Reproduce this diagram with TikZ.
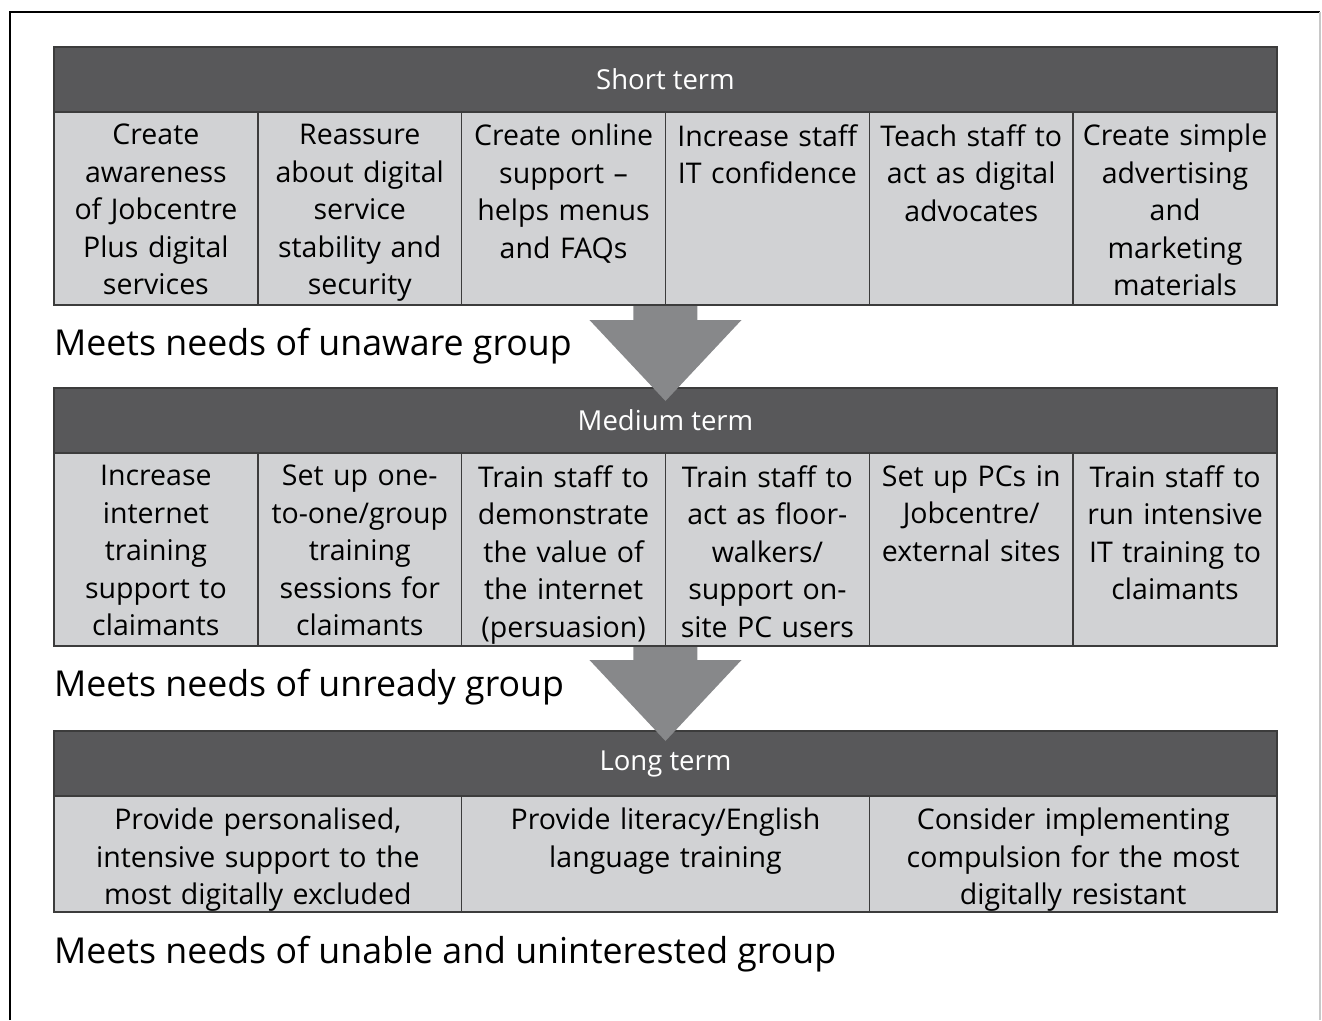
\documentclass[tikz,border=0pt]{standalone}
\usepackage{fontspec}
\setmainfont{Open Sans}
\usetikzlibrary{positioning}
\definecolor{headgrey}{HTML}{58585A}
\definecolor{cellgrey}{HTML}{D1D2D4}
\definecolor{arrowgrey}{HTML}{87888A}
\definecolor{rulegrey}{HTML}{3C3C3C}
\definecolor{framegrey}{HTML}{C8C8C8}
\tikzset{head/.style={rectangle, draw=rulegrey, line width=1.5pt, fill=headgrey,
   text=white, minimum width=1223pt, minimum height=65pt, inner sep=0pt, outer sep=0pt,
   font=\fontsize{27.5}{32}\selectfont}}
\tikzset{cell/.style={rectangle, draw=rulegrey, line width=1.5pt, fill=cellgrey,
   minimum width=203.83pt, minimum height=193pt, inner sep=0pt, outer sep=0pt}}
\tikzset{wide/.style={cell, minimum width=407.67pt, minimum height=116pt}}
\tikzset{celltext/.style={text width=200pt, align=center, inner sep=0pt, anchor=north,
   font=\fontsize{28.5}{37.5}\selectfont}}
\tikzset{meets/.style={anchor=base west, inner sep=0pt, font=\fontsize{35.7}{42}\selectfont}}

\begin{document}
\begin{tikzpicture}[x=1pt, y=-1pt]

    \useasboundingbox (0,0) rectangle (1322,1020);
    \draw[black, line width=2pt] (10,1020) -- (10,12) -- (1320,12);
    \draw[framegrey, line width=1.5pt] (1320,12) -- (1320,1020);

    % short term
    \node[head, anchor=north west] (short) at (54,47) {Short term};
    \node[cell, anchor=north west] (s1) at (short.south west) {};
    \node[cell, right=0pt of s1] (s2) {};
    \node[cell, right=0pt of s2] (s3) {};
    \node[cell, right=0pt of s3] (s4) {};
    \node[cell, right=0pt of s4] (s5) {};
    \node[cell, right=0pt of s5] (s6) {};
    \node[celltext, below=12pt of s1.north] (s1t) {Create\\awareness\\of Jobcentre\\Plus digital\\services};
    \node[celltext, below=12pt of s2.north] (s2t) {Reassure\\about digital\\service\\stability and\\security};
    \node[celltext, below=12pt of s3.north] (s3t) {Create online\\support --\\helps menus\\and FAQs};
    \node[celltext, below=12pt of s4.north] (s4t) {Increase staff\\IT confidence};
    \node[celltext, below=12pt of s5.north] (s5t) {Teach staff to\\act as digital\\advocates};
    \node[celltext, below=12pt of s6.north] (s6t) {Create simple\\advertising\\and\\marketing\\materials};
    \node[meets] (need1) at ([yshift=-50pt]s1.south west) {Meets needs of unaware group};

    % medium term
    \node[head, anchor=north west] (medium) at (54,388) {Medium term};
    \node[cell, anchor=north west] (m1) at (medium.south west) {};
    \node[cell, right=0pt of m1] (m2) {};
    \node[cell, right=0pt of m2] (m3) {};
    \node[cell, right=0pt of m3] (m4) {};
    \node[cell, right=0pt of m4] (m5) {};
    \node[cell, right=0pt of m5] (m6) {};
    \node[celltext, below=12pt of m1.north] (m1t) {Increase\\internet\\training\\support to\\claimants};
    \node[celltext, below=12pt of m2.north] (m2t) {Set up one-\\to-one/group\\training\\sessions for\\claimants};
    \node[celltext, below=12pt of m3.north] (m3t) {Train staff to\\demonstrate\\the value of\\the internet\\(persuasion)};
    \node[celltext, below=12pt of m4.north] (m4t) {Train staff to\\act as floor-\\walkers/\\support on-\\site PC users};
    \node[celltext, below=12pt of m5.north] (m5t) {Set up PCs in\\Jobcentre/\\external sites};
    \node[celltext, below=12pt of m6.north] (m6t) {Train staff to\\run intensive\\IT training to\\claimants};
    \node[meets] (need2) at ([yshift=-50pt]m1.south west) {Meets needs of unready group};

    % long term
    \node[head, anchor=north west] (long) at (54,731) {Long term};
    \node[wide, anchor=north west] (l1) at (long.south west) {};
    \node[wide, right=0pt of l1] (l2) {};
    \node[wide, right=0pt of l2] (l3) {};
    \node[celltext, text width=400pt, below=12pt of l1.north] (l1t) {Provide personalised,\\intensive support to the\\most digitally excluded};
    \node[celltext, text width=400pt, below=12pt of l2.north] (l2t) {Provide literacy/English\\language training};
    \node[celltext, text width=400pt, below=12pt of l3.north] (l3t) {Consider implementing\\compulsion for the most\\digitally resistant};
    \node[meets] (need3) at ([yshift=-51pt]l1.south west) {Meets needs of unable and uninterested group};

    % arrows between the terms
    \coordinate (a1) at (s3.south east);
    \coordinate (a2) at (m3.south east);
    \fill[arrowgrey] (a1) ++(-32,1) -- ++(64,0) -- ++(0,14) -- ++(44,0) -- ++(-76,81)
       -- ++(-76,-81) -- ++(44,0) -- cycle;
    \fill[arrowgrey] (a2) ++(-32,1) -- ++(64,0) -- ++(0,13) -- ++(44,0) -- ++(-76,81)
       -- ++(-76,-81) -- ++(44,0) -- cycle;

  \end{tikzpicture}
\end{document}
